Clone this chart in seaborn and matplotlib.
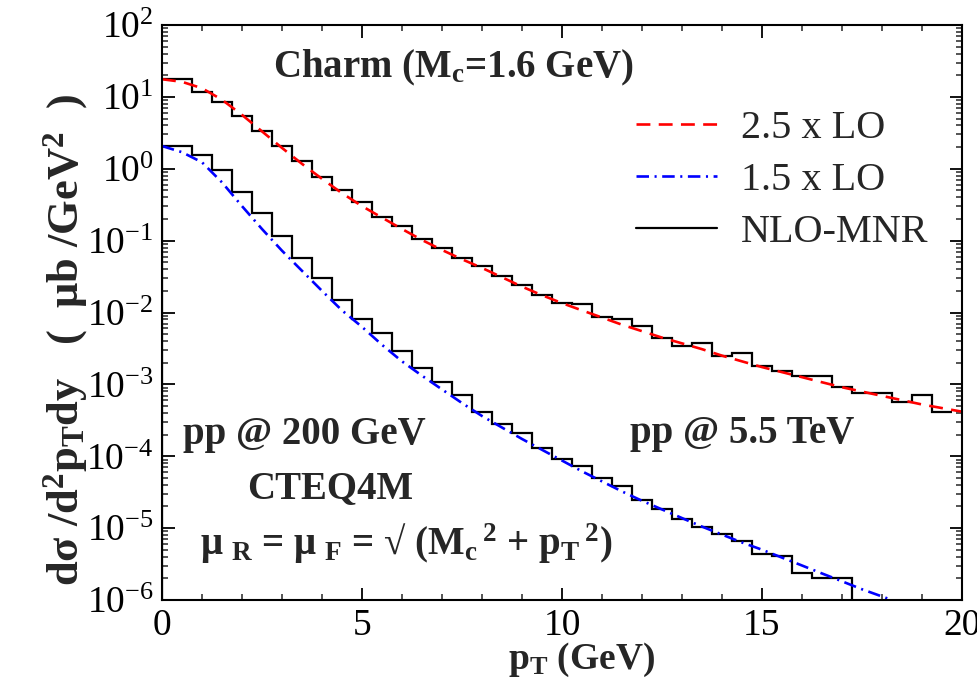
import numpy as np
import matplotlib
matplotlib.use("Agg")
import matplotlib.pyplot as plt
import seaborn as sns
from matplotlib.ticker import LogLocator, MultipleLocator, LogFormatterSciNotation, NullFormatter

# ---------------- data ----------------
# NLO-MNR histograms: bins of 0.5 GeV centred on 0, 0.5, 1.0, ... (first bin clipped at 0)
edges_55 = np.concatenate([[0.0], np.arange(0.25, 19.76, 0.5)])
nlo_55 = [17.6, 17.6, 11.8, 8.57, 5.42, 3.39, 2.07, 1.28, 0.776, 0.507,
          0.348, 0.216, 0.158, 0.107, 0.0800, 0.0581, 0.0449, 0.0326, 0.0239, 0.0176,
          0.0137, 0.0130, 0.00877, 0.00815, 0.00646, 0.00437, 0.00343, 0.00372, 0.00251, 0.00269,
          0.00181, 0.00155, 0.00132, 0.00132, 0.000914, 0.000769, 0.000769, 0.000565, 0.000714, 0.000419]

edges_200 = np.concatenate([[0.0], np.arange(0.25, 17.26, 0.5)])
nlo_200 = [2.07, 2.07, 1.56, 0.962, 0.481, 0.240, 0.116, 0.0575, 0.0305, 0.0151,
           0.00804, 0.00526, 0.00288, 0.00168, 0.00107, 0.000714, 0.000407, 0.000278, 0.000214, 0.000129,
           9.23e-5, 7.24e-5, 4.95e-5, 3.89e-5, 2.48e-5, 1.82e-5, 1.32e-5, 1.05e-5, 8.22e-6, 6.52e-6,
           4.37e-6, 4.07e-6, 2.34e-6, 2.02e-6, 2.02e-6]

# LO curves (scaled)
lo_pt_55 = [0, 0.5, 1, 1.5, 2, 2.5, 3, 3.5, 4, 4.5, 5, 5.5, 6, 6.5, 7, 7.5, 8, 8.5, 9, 9.5,
            10, 10.5, 11, 11.5, 12, 12.5, 13, 13.5, 14, 14.5, 15, 15.5, 16, 16.5, 17, 17.5,
            18, 18.5, 19, 19.5, 20]
lo_55 = [17.6, 16.2, 13.2, 9.12, 5.62, 3.31, 1.95, 1.17, 0.724, 0.457,
         0.302, 0.209, 0.145, 0.102, 0.0741, 0.0550, 0.0417, 0.0309, 0.0229, 0.0174,
         0.0135, 0.0107, 0.00851, 0.00676, 0.00550, 0.00447, 0.00372, 0.00309, 0.00251, 0.00209,
         0.00174, 0.00148, 0.00126, 0.00107, 0.000912, 0.000794, 0.000692, 0.000603, 0.000525, 0.000468,
         0.000417]

lo_pt_200 = [0, 0.5, 1, 1.5, 2, 2.5, 3, 3.5, 4, 4.5, 5, 5.5, 6, 6.5, 7, 7.5, 8, 8.5, 9, 9.5,
             10, 10.5, 11, 11.5, 12, 12.5, 13, 13.5, 14, 14.5, 15, 15.5, 16, 16.5, 17, 17.5,
             18, 18.5]
lo_200 = [2.07, 1.70, 1.23, 0.646, 0.302, 0.145, 0.0724, 0.0380, 0.0200, 0.0107,
          0.00631, 0.00355, 0.00209, 0.00132, 0.000851, 0.000550, 0.000363, 0.000251, 0.000174, 0.000123,
          8.71e-5, 6.17e-5, 4.47e-5, 3.24e-5, 2.40e-5, 1.82e-5, 1.38e-5, 1.05e-5, 8.13e-6, 6.31e-6,
          5.01e-6, 3.89e-6, 3.02e-6, 2.34e-6, 1.82e-6, 1.41e-6, 1.12e-6, 8.9e-7]

x_ticks = [0, 5, 10, 15, 20]
legend_labels = ["2.5 x LO", "1.5 x LO", "NLO-MNR"]

# ---------------- style ----------------
sns.set_theme(style="ticks")
plt.rcParams.update({
    "font.family": ["Liberation Serif", "DejaVu Serif"],
    "mathtext.fontset": "custom",
    "mathtext.rm": "Liberation Serif",
    "mathtext.default": "regular",
    "axes.unicode_minus": False,
    "lines.scale_dashes": False,
    "xtick.direction": "in", "ytick.direction": "in",
    "xtick.top": True, "ytick.right": True,
    "axes.linewidth": 1.5,
    "axes.edgecolor": "black",
})

fig = plt.figure(figsize=(9.78, 6.88), dpi=100)
ax = fig.add_axes([162 / 978, 88 / 688, 800 / 978, 575 / 688])

red_line = sns.lineplot(x=lo_pt_55, y=lo_55, ax=ax, color="#ff0000", lw=1.9,
                        linestyle=(0, (10, 6)), estimator=None, label=legend_labels[0]).lines[-1]
blue_line = sns.lineplot(x=lo_pt_200, y=lo_200, ax=ax, color="#0000ff", lw=1.9,
                         linestyle=(0, (9, 4, 1.5, 4)), estimator=None, label=legend_labels[1]).lines[-1]
step55 = ax.stairs(nlo_55, edges_55, baseline=None, color="black", lw=1.6, label=legend_labels[2])
ax.stairs(nlo_200, edges_200, baseline=1e-9, color="black", lw=1.6)

ax.set_yscale("log")
ax.set_xlim(0, 20)
ax.set_ylim(1e-6, 1e2)
ax.set_xticks(x_ticks)
ax.xaxis.set_minor_locator(MultipleLocator(1))
ax.yaxis.set_major_locator(LogLocator(base=10, numticks=20))
ax.yaxis.set_minor_locator(LogLocator(base=10, subs=np.arange(2, 10), numticks=200))
ax.yaxis.set_minor_formatter(NullFormatter())
ax.yaxis.set_major_formatter(LogFormatterSciNotation())
ax.tick_params(which="major", length=9, width=1.3, labelsize=27, pad=6, colors="black")
ax.tick_params(which="minor", length=4.5, width=1.1)
ax.grid(False)

ax.set_xlabel("p$_T$ (GeV)", fontsize=27, fontweight="bold")
ax.xaxis.set_label_coords(0.524, -0.104)
ax.xaxis.label.set_verticalalignment("center")
ax.set_ylabel("dσ /d$^2$p$_T$dy   (  μb /GeV$^2$  )", fontsize=32, fontweight="bold")
ax.yaxis.set_label_coords(-0.12, 0.452)
ax.yaxis.label.set_verticalalignment("center")

leg = ax.legend(handles=[red_line, blue_line, step55], labels=legend_labels,
                loc="upper left", bbox_to_anchor=(0.5925, 0.853), frameon=False,
                fontsize=29, handlelength=2.0, handletextpad=0.6, labelspacing=0.37,
                borderpad=0, borderaxespad=0)

tk = dict(transform=ax.transAxes, fontsize=28, fontweight="bold", ha="left", va="baseline")
ax.text(0.139, 0.908, "Charm (M$_c$=1.6 GeV)", **tk)
ax.text(0.026, 0.271, "pp @ 200 GeV", **tk)
ax.text(0.585, 0.2725, "pp @ 5.5 TeV", **tk)
ax.text(0.1067, 0.177, "CTEQ4M", **tk)
ax.text(0.0475, 0.0783, r"μ$_{\ R}$ = μ$_{\ F}$ = √ (M$_c$$^{\,2}$ + p$_T$$^{\,2}$)", **tk)

fig.savefig("out.png", dpi=100)
